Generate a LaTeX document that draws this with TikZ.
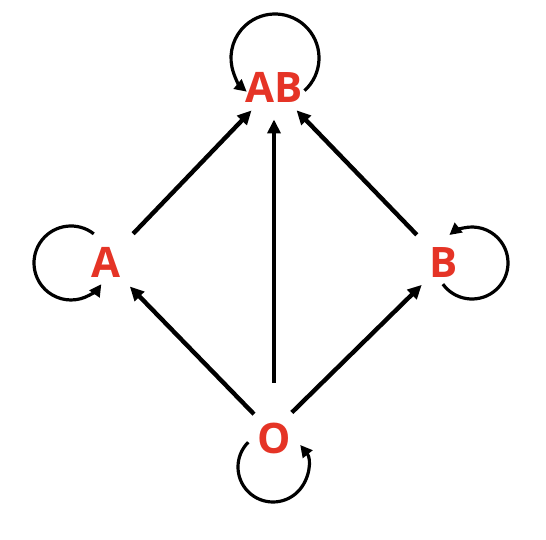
\documentclass[tikz,border=0pt]{standalone}
\usepackage{fontspec}
\newfontfamily\statefont{Open Sans}
\usepackage{tikz}
\usetikzlibrary{arrows.meta}
\definecolor{statered}{RGB}{229,52,38}
\tikzset{
  state/.style={circle, inner sep=0pt, minimum size=62pt, text=statered, font=\fontsize{42}{42}\selectfont\statefont\bfseries},
  flow/.style={-{Triangle[length=14pt, width=13pt]}, line width=4.4pt},
  selfloop/.style={-{Triangle[length=12pt, width=12pt]}, line width=3.2pt},
}
\begin{document}
\begin{tikzpicture}[x=1pt, y=1pt]
  \useasboundingbox (0,0) rectangle (546,540);
  \node[state] (ab) at (274,453) {AB};
  \node[state] (a) at (106,278) {A};
  \node[state] (b) at (444,277) {B};
  \node[state] (o) at (274,102) {O};
  \draw[flow, shorten <=8pt] (a) -- (ab);
  \draw[flow, shorten <=8pt] (b) -- (ab);
  \draw[flow, shorten <=24pt] (o) -- (ab);
  \draw[flow, shorten >=3pt] (o.130) -- (a);
  \draw[flow] (o.55) -- (b);
  % self loops
  \draw[selfloop] (ab) ++(1,29) ++(-48:44) arc[start angle=-48, end angle=230, radius=44];
  \draw[selfloop] (a) ++(-35,-1) ++(52:37) arc[start angle=52, end angle=325, radius=37];
  \draw[selfloop] (b) ++(28,0) ++(216:36) arc[start angle=216, end angle=489, radius=36];
  \draw[selfloop] (o) ++(-1,-29) ++(135:35) arc[start angle=135, end angle=399, radius=35];
\end{tikzpicture}
\end{document}
